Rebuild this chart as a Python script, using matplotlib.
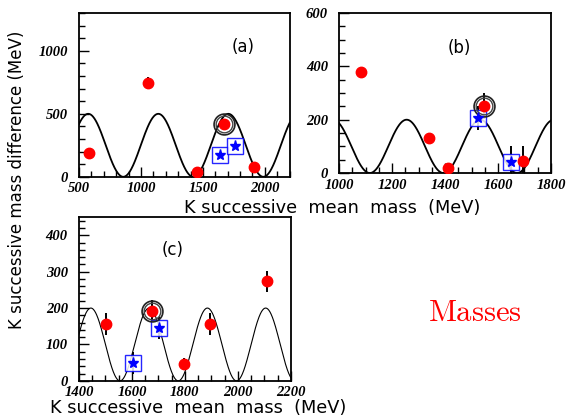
import numpy as np
import matplotlib
matplotlib.use('Agg')
import matplotlib.pyplot as plt
from matplotlib.ticker import MultipleLocator

plt.rcParams['mathtext.fontset'] = 'cm'

# panel (a)
a_red_x = [580, 1055, 1452, 1670, 1912]
a_red_y = [190, 745, 38, 418, 75]
a_red_err = [0, 50, 30, 0, 0]
a_star_x = [1637, 1758]
a_star_y = [175, 246]
a_ring = (1670, 418)
a_wave = dict(amp=500, peak=575, period=565)

# panel (b)
b_red_x = [1083, 1340, 1411, 1547, 1694]
b_red_y = [380, 131, 19, 251, 45]
b_red_err = [0, 0, 0, 50, 55]
b_star_x = [1524, 1649]
b_star_y = [207, 43]
b_star_err = [45, 60]
b_ring = (1547, 251)
b_wave = dict(amp=200, peak=1255, period=278)

# panel (c)
c_red_x = [1502, 1675, 1796, 1894, 2109]
c_red_y = [157, 193, 47, 157, 273]
c_red_err = [30, 30, 15, 30, 30]
c_star_x = [1604, 1702]
c_star_y = [50, 146]
c_star_err = [30, 30]
c_ring = (1675, 193)
c_wave = dict(amp=200, peak=1445, period=220)

tick_font = dict(family='Liberation Serif', weight='bold', style='italic', size=10.5)
label_font = dict(family='DejaVu Sans', size=12.8)


def wave(ax, xlim, amp, peak, period, lw):
    x = np.linspace(xlim[0], xlim[1], 600)
    y = amp / 2 * (1 + np.cos(2 * np.pi * (x - peak) / period))
    ax.plot(x, y, color='black', lw=lw, zorder=1)


def style(ax, xlim, ylim, xmaj, xmin, ymaj, ymin):
    ax.set_xlim(*xlim)
    ax.set_ylim(*ylim)
    ax.xaxis.set_major_locator(MultipleLocator(xmaj))
    ax.xaxis.set_minor_locator(MultipleLocator(xmin))
    ax.yaxis.set_major_locator(MultipleLocator(ymaj))
    ax.yaxis.set_minor_locator(MultipleLocator(ymin))
    ax.tick_params(which='both', direction='in', top=False, right=False, width=1)
    ax.tick_params(which='major', length=7)
    ax.tick_params(axis='x', which='major', pad=4)
    ax.tick_params(axis='y', which='major', pad=8)
    ax.tick_params(which='minor', length=4)
    for lab in ax.get_xticklabels() + ax.get_yticklabels():
        lab.set_fontproperties(tick_font)
    for s in ax.spines.values():
        s.set_linewidth(1.3)


def draw(ax, rx, ry, rerr, sx, sy, serr, ring):
    ax.errorbar(rx, ry, yerr=rerr, fmt='none', ecolor='black', elinewidth=1.4, zorder=2)
    if serr:
        ax.errorbar(sx, sy, yerr=serr, fmt='none', ecolor='black', elinewidth=1.4, zorder=2)
    ax.plot(rx, ry, 'o', color='red', ms=7.5, mec='red', zorder=4)
    ax.plot(sx, sy, 's', mfc='white', mec='blue', ms=11, mew=1.0, alpha=0.85, zorder=3)
    ax.plot(sx, sy, '*', color='blue', ms=8, zorder=4)
    ax.plot(*ring, 'o', mfc='none', mec='#222222', ms=15, mew=1.2, zorder=3)
    ax.plot(*ring, 'o', mfc='none', mec='#444444', ms=12, mew=1.0, zorder=3)


fig = plt.figure(figsize=(5.68, 4.19), dpi=100)

ax_a = fig.add_axes([0.139, 0.578, 0.371, 0.391])
wave(ax_a, (500, 2200), lw=1.3, **a_wave)
draw(ax_a, a_red_x, a_red_y, a_red_err, a_star_x, a_star_y, None, a_ring)
style(ax_a, (500, 2200), (0, 1300), 500, 100, 500, 100)
ax_a.text(0.777, 0.79, '(a)', transform=ax_a.transAxes, ha='center', va='center',
          fontsize=12, family='DejaVu Sans')

ax_b = fig.add_axes([0.597, 0.587, 0.373, 0.382])
wave(ax_b, (1000, 1800), lw=1.3, **b_wave)
draw(ax_b, b_red_x, b_red_y, b_red_err, b_star_x, b_star_y, b_star_err, b_ring)
style(ax_b, (1000, 1800), (0, 600), 200, 50, 200, 50)
ax_b.text(0.566, 0.78, '(b)', transform=ax_b.transAxes, ha='center', va='center',
          fontsize=12, family='DejaVu Sans')

ax_c = fig.add_axes([0.139, 0.091, 0.373, 0.391])
wave(ax_c, (1400, 2200), lw=0.8, **c_wave)
draw(ax_c, c_red_x, c_red_y, c_red_err, c_star_x, c_star_y, c_star_err, c_ring)
style(ax_c, (1400, 2200), (0, 450), 200, 50, 100, 20)
ax_c.text(0.44, 0.80, '(c)', transform=ax_c.transAxes, ha='center', va='center',
          fontsize=12, family='DejaVu Sans')

fig.text(0.585, 0.503, 'K successive  mean  mass  (MeV)', ha='center', va='center',
         **label_font)
fig.text(0.349, 0.027, 'K successive  mean  mass  (MeV)', ha='center', va='center',
         **label_font)
fig.text(0.03, 0.57, 'K successive mass difference (MeV)', ha='center', va='center',
         rotation=90, family='DejaVu Sans', size=12)
fig.text(0.837, 0.255, r'$\mathrm{Masses}$', ha='center', va='center',
         fontsize=22, color='red')

fig.savefig('out.png', dpi=100)
